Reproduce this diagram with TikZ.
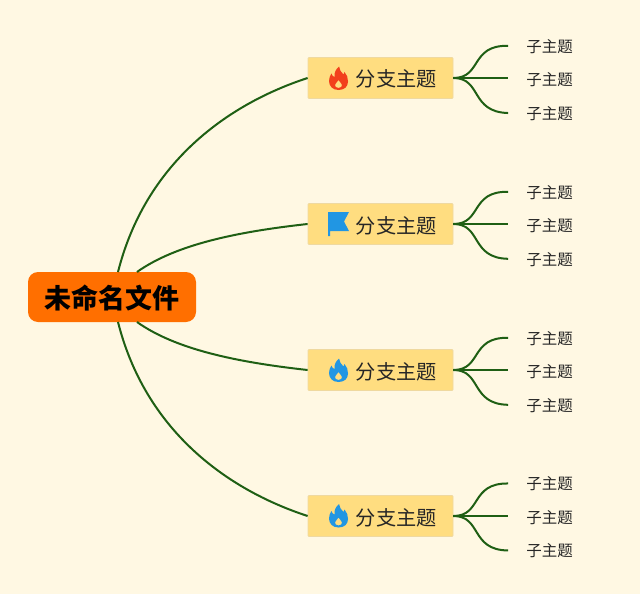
\documentclass[tikz,border=0pt]{standalone}
\usepackage{fontspec}
\setmainfont{Noto Sans CJK SC}
\usepackage{tikz}
\usetikzlibrary{positioning}
\definecolor{paper}{HTML}{FFF8E3}
\definecolor{rootfill}{HTML}{FF6F00}
\definecolor{branchfill}{HTML}{FFDD80}
\definecolor{branchedge}{HTML}{EFD9A0}
\definecolor{linkgreen}{HTML}{1F5F14}
\definecolor{flamered}{HTML}{F2401C}
\definecolor{iconblue}{HTML}{2196E3}
\definecolor{subtext}{HTML}{262626}
\newcommand{\branchlabel}{\hspace{31.5pt}分支主题}
\tikzset{
    flame/.pic={
        \fill[#1, even odd rule] (0,11.5)
            .. controls (-6,11.5) and (-9.5,7.5) .. (-9.5,2.5)
            .. controls (-9.5,-0.5) and (-8.5,-3) .. (-7,-5)
            .. controls (-6.5,-3) and (-5.5,-2) .. (-4,-1.5)
            .. controls (-4.5,-6) and (-2.5,-9.5) .. (0.5,-12)
            .. controls (0.5,-8.5) and (3,-6.5) .. (5,-4)
            .. controls (5.5,-4.5) and (6,-5.5) .. (6,-6.5)
            .. controls (8.5,-4) and (9.5,-0.5) .. (9.5,3)
            .. controls (9.5,8) and (6,11.5) .. (0,11.5) -- cycle
            (0,9.5)
            .. controls (-2.5,9.5) and (-3.5,8) .. (-3.5,6.5)
            .. controls (-3.5,5) and (-1,3.5) .. (0,1.5)
            .. controls (1,3.5) and (3.5,5) .. (3.5,6.5)
            .. controls (3.5,8) and (2.5,9.5) .. (0,9.5) -- cycle;
    },
    flagicon/.pic={
        \fill[iconblue] (-10.5,-12) -- (10.5,-12) -- (5.5,-2.5) -- (10.5,7)
            -- (-8.5,7) -- (-8.5,12) -- (-10.5,12) -- cycle;
    },
}
\begin{document}
\begin{tikzpicture}
        [
            x=1pt, y=-1pt,
            root/.style={rectangle, rounded corners=10pt, fill=rootfill, text=black,
                minimum width=168pt, minimum height=50pt, inner sep=0pt,
                text height=22pt, text depth=0pt,
                font=\fontsize{27}{30}\selectfont\bfseries},
            branch/.style={rectangle, rounded corners=1pt, fill=branchfill, draw=branchedge, line width=0.8pt,
                minimum width=145pt, minimum height=41pt, inner sep=0pt, text=subtext,
                text height=18pt, text depth=0pt,
                font=\fontsize{20.2}{24}\selectfont},
            leaf/.style={inner sep=0pt, text=subtext, font=\fontsize{15.5}{18}\selectfont},
            link/.style={draw=linkgreen, line width=2pt},
            toleaf/.style={link, shorten >=18pt},
        ]
            \useasboundingbox[fill=paper] (0,0) rectangle (640,594);

            \node[root] (R) at (112,297) {未命名文件};
            \coordinate (Ra) at (118,272);
            \coordinate (Rb) at (137,272);
            \coordinate (Rc) at (137,322);
            \coordinate (Rd) at (118,322);

            \node[branch] (B1) at (380.5,78) {\branchlabel};
            \node[branch] (B2) at (380.5,224) {\branchlabel};
            \node[branch] (B3) at (380.5,370) {\branchlabel};
            \node[branch] (B4) at (380.5,516) {\branchlabel};

            \pic at (338.5,78.5) {flame=flamered};
            \pic at (338.5,224) {flagicon};
            \pic at (338.5,370.5) {flame=iconblue};
            \pic at (338.5,516) {flame=iconblue};

            \node[leaf] (S11) at (549.5,46.2) {子主题};
            \node[leaf] (S12) at (549.5,80) {子主题};
            \node[leaf] (S13) at (549.5,113.5) {子主题};
            \node[leaf] (S21) at (549.5,192.2) {子主题};
            \node[leaf] (S22) at (549.5,226) {子主题};
            \node[leaf] (S23) at (549.5,259.2) {子主题};
            \node[leaf] (S31) at (549.5,338.2) {子主题};
            \node[leaf] (S32) at (549.5,371.5) {子主题};
            \node[leaf] (S33) at (549.5,405.2) {子主题};
            \node[leaf] (S41) at (549.5,483.7) {子主题};
            \node[leaf] (S42) at (549.5,517.2) {子主题};
            \node[leaf] (S43) at (549.5,550.7) {子主题};

            \draw[link] (Ra) .. controls (145,165) and (225,105) .. (B1.west);
            \draw[link] (Rb) .. controls (175,245) and (235,232) .. (B2.west);
            \draw[link] (Rc) .. controls (175,349) and (235,362) .. (B3.west);
            \draw[link] (Rd) .. controls (145,429) and (225,489) .. (B4.west);

            \draw[toleaf] (B1.east) .. controls (482,78) and (470,45) .. (S11.west);
            \draw[toleaf] (B1.east) -- (B1.east -| S12.west);
            \draw[toleaf] (B1.east) .. controls (482,78) and (470,112) .. (S13.west);
            \draw[toleaf] (B2.east) .. controls (482,224) and (470,191) .. (S21.west);
            \draw[toleaf] (B2.east) -- (B2.east -| S22.west);
            \draw[toleaf] (B2.east) .. controls (482,224) and (470,258) .. (S23.west);
            \draw[toleaf] (B3.east) .. controls (482,370) and (470,337) .. (S31.west);
            \draw[toleaf] (B3.east) -- (B3.east -| S32.west);
            \draw[toleaf] (B3.east) .. controls (482,370) and (470,404) .. (S33.west);
            \draw[toleaf] (B4.east) .. controls (482,516) and (470,483) .. (S41.west);
            \draw[toleaf] (B4.east) -- (B4.east -| S42.west);
            \draw[toleaf] (B4.east) .. controls (482,516) and (470,550) .. (S43.west);
        \end{tikzpicture}
\end{document}
